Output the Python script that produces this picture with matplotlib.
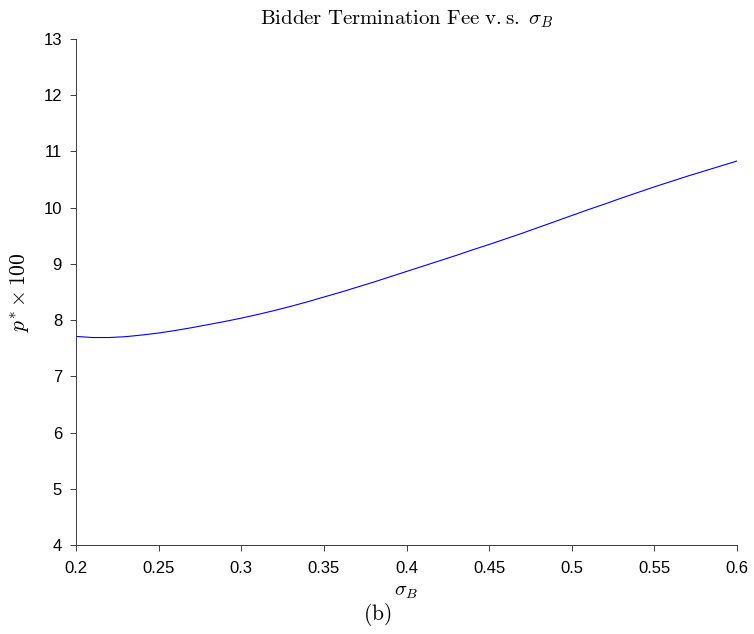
import numpy as np
import matplotlib
matplotlib.use("Agg")
import matplotlib.pyplot as plt

# valores (sigma_B, p* x 100)
sigma_b = [0.20, 0.21, 0.22, 0.23, 0.24, 0.25, 0.26, 0.27, 0.28, 0.29,
           0.30, 0.31, 0.32, 0.33, 0.34, 0.35, 0.36, 0.37, 0.38, 0.39,
           0.40, 0.41, 0.42, 0.43, 0.44, 0.45, 0.46, 0.47, 0.48, 0.49,
           0.50, 0.51, 0.52, 0.53, 0.54, 0.55, 0.56, 0.57, 0.58, 0.59, 0.60]
p_star = [7.71, 7.69, 7.69, 7.705, 7.735, 7.77, 7.815, 7.865, 7.92, 7.975,
          8.035, 8.10, 8.17, 8.245, 8.325, 8.41, 8.495, 8.585, 8.675, 8.77,
          8.865, 8.96, 9.055, 9.15, 9.25, 9.345, 9.445, 9.545, 9.65, 9.755,
          9.86, 9.965, 10.065, 10.17, 10.27, 10.37, 10.465, 10.56, 10.65, 10.74, 10.83]

x_ticks = [0.2, 0.25, 0.3, 0.35, 0.4, 0.45, 0.5, 0.55, 0.6]
x_labels = ["0.2", "0.25", "0.3", "0.35", "0.4", "0.45", "0.5", "0.55", "0.6"]
y_ticks = [4, 5, 6, 7, 8, 9, 10, 11, 12, 13]

plt.rcParams["mathtext.fontset"] = "cm"
plt.rcParams["font.family"] = ["Liberation Sans", "DejaVu Sans"]

fig = plt.figure(figsize=(7.54, 6.34), dpi=100)
ax = fig.add_axes([0.1008, 0.1404, 0.8767, 0.7981])

ax.plot(sigma_b, p_star, color="#0000ff", lw=0.8)

ax.set_xlim(0.2, 0.6)
ax.set_ylim(4, 13)
ax.set_xticks(x_ticks)
ax.set_xticklabels(x_labels)
ax.set_yticks(y_ticks)

for s in ["top", "right"]:
    ax.spines[s].set_visible(False)
for s in ["left", "bottom"]:
    ax.spines[s].set_color("#3c3c3c")
    ax.spines[s].set_linewidth(0.7)
ax.tick_params(axis="both", direction="out", length=4.5, width=0.7,
               color="#3c3c3c", labelsize=12)
ax.tick_params(axis="x", pad=7)
ax.tick_params(axis="y", pad=5.5)

ax.set_title(r"$\mathrm{Bidder\ Termination\ Fee\ v.s.}\ \sigma_B$",
             fontsize=15, pad=10.5)
ax.set_xlabel(r"$\sigma_B$", fontsize=14.5, labelpad=4.5)
ax.set_ylabel(r"$p^{*}\times100$", fontsize=15.5, labelpad=8.5)
# etiqueta del subpanel, centrada en la figura
fig.text(0.5, 0.03, r"$\mathrm{(b)}$", fontsize=15.5, ha="center", va="center")

fig.savefig("out.png", dpi=100)
